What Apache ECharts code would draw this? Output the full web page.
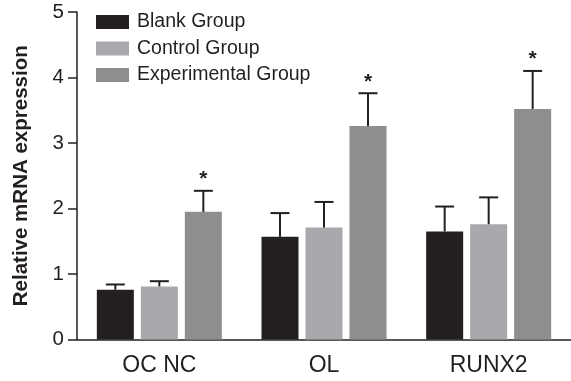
<!DOCTYPE html>
<html>
<head>
<meta charset="utf-8">
<script src="https://cdn.jsdelivr.net/npm/echarts@6/dist/echarts.min.js"></script>
<style>
  html, body { margin: 0; padding: 0; background: #fff; }
  #chart { width: 571px; height: 381px; }
</style>
</head>
<body>
<div id="chart"></div>
<script>
// Relative mRNA expression per marker gene, mean and SD for each group
const categories = ['OC NC', 'OL', 'RUNX2'];
const groupNames = ['Blank Group', 'Control Group', 'Experimental Group'];

const blankMean = [0.76, 1.57, 1.65];
const controlMean = [0.81, 1.71, 1.76];
const experimentalMean = [1.95, 3.26, 3.52];

const blankSD = [0.08, 0.36, 0.38];
const controlSD = [0.08, 0.39, 0.41];
const experimentalSD = [0.32, 0.50, 0.58];

// significance marks shown above each bar ('' = none)
const blankSig = ['', '', ''];
const controlSig = ['', '', ''];
const experimentalSig = ['*', '*', '*'];

const yTicks = [0, 1, 2, 3, 4, 5];

const means = [blankMean, controlMean, experimentalMean];
const sds = [blankSD, controlSD, experimentalSD];
const sigs = [blankSig, controlSig, experimentalSig];
const colors = ['#231f20', '#a7a9ac', '#8d8e90'];

const FONT = "'Liberation Sans', Arial, Helvetica, sans-serif";
const INK = '#231f20';
const BAR_W = 37;
const BAR_STEP = 44; // bar width plus the gap between bars
const CAP_W = 19;

const chart = echarts.init(document.getElementById('chart'), null, { renderer: 'canvas' });

const barSeries = groupNames.map((name, g) => ({
  name: name,
  type: 'bar',
  data: means[g],
  barWidth: BAR_W,
  barGap: ((BAR_STEP - BAR_W) / BAR_W * 100) + '%',
  itemStyle: { color: colors[g] },
  emphasis: { disabled: true },
  z: 2
}));

// error bars (upper whisker with cap) and significance marks
const errSeries = groupNames.map((name, g) => ({
  type: 'custom',
  silent: true,
  z: 3,
  data: categories.map((c, i) => [i, means[g][i], sds[g][i]]),
  encode: { x: 0, y: 1 },
  renderItem: function (params, api) {
    const i = api.value(0);
    const m = api.value(1);
    const sd = api.value(2);
    const base = api.coord([i, m]);
    const top = api.coord([i, m + sd]);
    const x = base[0] + (g - 1) * BAR_STEP;
    const children = [
      { type: 'line', shape: { x1: x, y1: base[1], x2: x, y2: top[1] },
        style: { stroke: INK, lineWidth: 2 } },
      { type: 'line', shape: { x1: x - CAP_W / 2, y1: top[1], x2: x + CAP_W / 2, y2: top[1] },
        style: { stroke: INK, lineWidth: 2 } }
    ];
    const mark = sigs[g][i];
    if (mark) {
      children.push({
        type: 'text',
        style: {
          text: mark, x: x, y: top[1] - 1,
          align: 'center', verticalAlign: 'bottom',
          font: 'bold 21px ' + FONT, fill: INK
        }
      });
    }
    return { type: 'group', children: children };
  }
}));

chart.setOption({
  animation: false,
  backgroundColor: '#ffffff',
  textStyle: { fontFamily: FONT, color: INK },
  legend: {
    data: groupNames,
    orient: 'vertical',
    left: 96,
    top: 12,
    padding: 0,
    itemWidth: 33,
    itemHeight: 14,
    itemGap: 6.5,
    icon: 'rect',
    selectedMode: false,
    textStyle: { fontFamily: FONT, fontSize: 19.5, color: INK, lineHeight: 20, padding: [0, 0, 0, 3] }
  },
  grid: { left: 77, top: 12, width: 507, bottom: 41.5, containLabel: false },
  xAxis: {
    type: 'category',
    data: categories,
    axisLine: { lineStyle: { color: INK, width: 1.5 } },
    axisTick: { alignWithLabel: true, length: 8, lineStyle: { color: INK, width: 1.5 } },
    axisLabel: { fontFamily: FONT, fontSize: 23, color: INK, margin: 15 }
  },
  yAxis: {
    type: 'value',
    min: yTicks[0],
    max: yTicks[yTicks.length - 1],
    interval: 1,
    name: 'Relative mRNA expression',
    nameLocation: 'middle',
    nameRotate: 90,
    nameGap: 45,
    nameTextStyle: { fontFamily: FONT, fontSize: 20.5, fontWeight: 'bold', color: INK },
    axisLine: { show: true, lineStyle: { color: INK, width: 1.5 } },
    axisTick: { show: true, length: 9, lineStyle: { color: INK, width: 1.5 } },
    axisLabel: { fontFamily: FONT, fontSize: 20.5, color: INK, margin: 13 },
    splitLine: { show: false }
  },
  series: barSeries.concat(errSeries)
});
</script>
</body>
</html>
